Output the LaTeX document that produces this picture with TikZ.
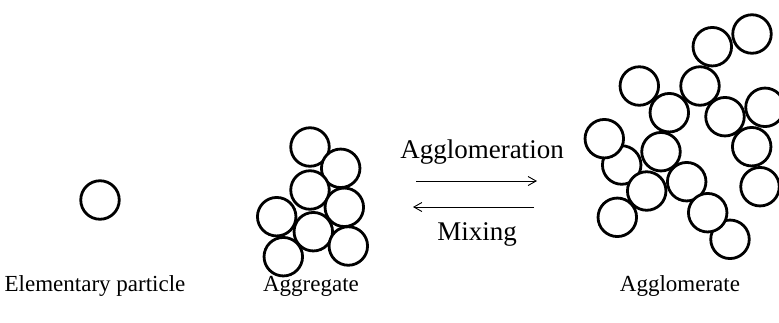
\documentclass[tikz,border=0pt]{standalone}
\usepackage{fontspec}
\setmainfont{Liberation Serif}
\usetikzlibrary{arrows.meta}
\begin{document}
\begin{tikzpicture}[x=1pt,y=-1pt,
  ball/.style={circle,draw=black,fill=white,line width=2.8pt,minimum size=38.5pt,inner sep=0pt},
  caption/.style={font=\fontsize{23}{26}\selectfont,anchor=base,inner sep=0pt},
  proc/.style={font=\fontsize{27}{30}\selectfont,anchor=base,inner sep=0pt},
  flow/.style={line width=0.9pt,-{Straight Barb[length=8pt,width=9pt,line width=0.9pt]}}]
\useasboundingbox (0,0) rectangle (779,322);

% single elementary particle
\node[ball] (p) at (100,200) {};

% aggregate: close-packed cluster
\node[ball] (g1) at (310,147) {};
\node[ball] (g2) at (340.7,168.3) {};
\node[ball] (g3) at (310,190) {};
\node[ball] (g4) at (344.3,207.3) {};
\node[ball] (g5) at (276.7,216.7) {};
\node[ball] (g6) at (313.3,231.7) {};
\node[ball] (g8) at (348.3,246) {};
\node[ball] (g7) at (283.3,256.7) {};

% agglomerate: loose network of particles
\node[ball] (a1) at (752,34) {};
\node[ball] (a2) at (712.3,46.7) {};
\node[ball] (a3) at (639.3,86) {};
\node[ball] (a4) at (700,86) {};
\node[ball] (a5) at (669.3,112.7) {};
\node[ball] (a6) at (725,116.7) {};
\node[ball] (a7) at (765,107.3) {};
\node[ball] (a9) at (621.7,165) {};
\node[ball] (a8) at (604.3,138.7) {};
\node[ball] (a10) at (661,151.7) {};
\node[ball] (a11) at (751.7,146.7) {};
\node[ball] (a14) at (760,186.7) {};
\node[ball] (a12) at (686.7,181.7) {};
\node[ball] (a13) at (646.7,191) {};
\node[ball] (a15) at (617.3,217.3) {};
\node[ball] (a17) at (730,239.3) {};
\node[ball] (a16) at (707.7,212.7) {};

% process arrows
\coordinate (fs) at (416,181);
\coordinate (fe) at (537,181);
\coordinate (bs) at (534,207);
\coordinate (be) at (413,207);
\draw[flow] (fs) -- (fe);
\draw[flow] (bs) -- (be);
\node[proc] (agl) at (482,158) {Agglomeration};
\node[proc] (mix) at (477,240) {Mixing};

% captions
\node[caption] (c1) at (95,291) {Elementary particle};
\node[caption] (c2) at (311,291) {Aggregate};
\node[caption] (c3) at (680,291) {Agglomerate};
\end{tikzpicture}
\end{document}
